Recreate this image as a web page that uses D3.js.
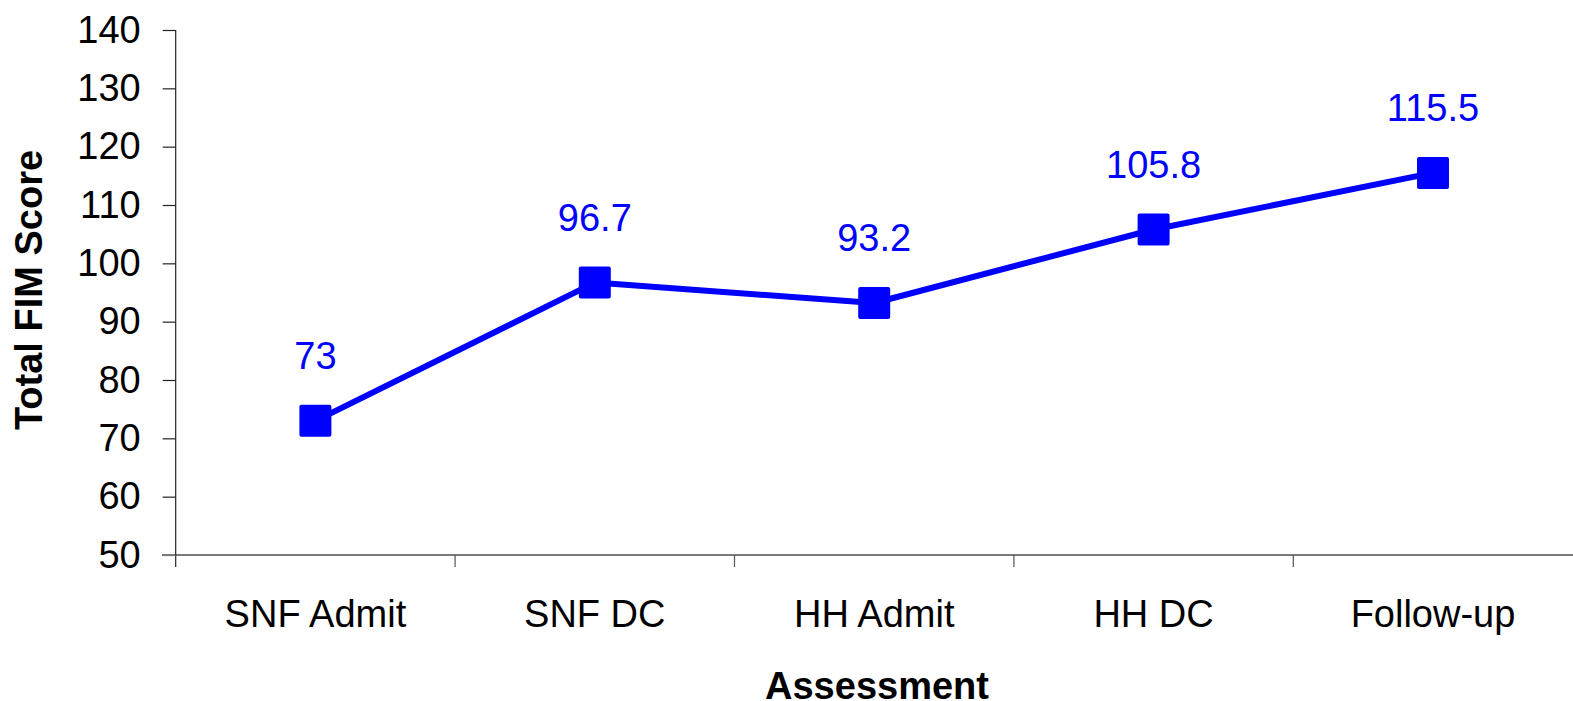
<!DOCTYPE html>
<html>
<head>
<meta charset="utf-8">
<script src="https://cdn.jsdelivr.net/npm/d3@7"></script>
<style>
  html, body { margin: 0; padding: 0; background: #fff; }
  svg { display: block; }
  text { font-family: "Liberation Sans", Arial, sans-serif; }
</style>
</head>
<body>
<svg id="chart" width="1573" height="701"></svg>
<script>
// Mean total FIM score at each assessment point
const categories = ["SNF Admit", "SNF DC", "HH Admit", "HH DC", "Follow-up"];
const fimScores = [73, 96.7, 93.2, 105.8, 115.5];
const scoreLabels = ["73", "96.7", "93.2", "105.8", "115.5"];
const yTicks = [50, 60, 70, 80, 90, 100, 110, 120, 130, 140];

(function () {
  const svg = d3.select("#chart");
  const plotLeft = 175.7, plotRight = 1572.7, plotTop = 30, plotBottom = 555;

  const x = d3.scaleBand().domain(categories).range([plotLeft, plotRight]).padding(0);
  const y = d3.scaleLinear().domain([50, 140]).range([plotBottom, plotTop]);

  // X axis: gray baseline with tick marks on category boundaries
  const xAxisG = svg.append("g");
  xAxisG.append("line")
    .attr("x1", 162).attr("x2", 1573)
    .attr("y1", plotBottom).attr("y2", plotBottom)
    .attr("stroke", "#7a7a7a").attr("stroke-width", 2);
  const boundaries = categories.slice(1).map(c => x(c));
  xAxisG.selectAll("line.tick").data(boundaries).join("line")
    .attr("class", "tick")
    .attr("x1", d => d).attr("x2", d => d)
    .attr("y1", plotBottom).attr("y2", plotBottom + 12)
    .attr("stroke", "#555").attr("stroke-width", 1.2);
  xAxisG.selectAll("text").data(categories).join("text")
    .attr("x", d => x(d) + x.bandwidth() / 2)
    .attr("y", 626.5)
    .attr("text-anchor", "middle")
    .attr("font-size", 38)
    .attr("fill", "#000")
    .text(d => d);

  // Y axis
  const yAxis = d3.axisLeft(y).tickValues(yTicks).tickSize(13).tickPadding(22).tickSizeOuter(0);
  const yAxisG = svg.append("g").attr("transform", `translate(${plotLeft},0)`).call(yAxis);
  yAxisG.select(".domain").attr("stroke", "#222").attr("stroke-width", 1.2)
    .attr("d", `M0,${plotTop}V${plotBottom + 12}`);
  yAxisG.selectAll(".tick line").attr("stroke", "#222").attr("stroke-width", 1.2);
  yAxisG.selectAll(".tick text")
    .attr("font-size", 38)
    .attr("font-family", "'Liberation Sans', Arial, sans-serif")
    .attr("fill", "#000");
  yAxisG.selectAll(".tick").filter(d => d === 50).select("line").attr("stroke", "#7a7a7a");

  // Axis titles
  svg.append("text")
    .attr("transform", "translate(42,290) rotate(-90)")
    .attr("text-anchor", "middle")
    .attr("font-size", 38).attr("font-weight", "bold")
    .text("Total FIM Score");
  svg.append("text")
    .attr("x", 877).attr("y", 699)
    .attr("text-anchor", "middle")
    .attr("font-size", 38).attr("font-weight", "bold")
    .text("Assessment");

  // Series line and markers
  const pts = categories.map((c, i) => ({ c, v: fimScores[i], label: scoreLabels[i] }));
  const cx = d => x(d.c) + x.bandwidth() / 2;

  svg.append("path")
    .datum(pts)
    .attr("fill", "none")
    .attr("stroke", "#0000ff")
    .attr("stroke-width", 6)
    .attr("stroke-linejoin", "round")
    .attr("d", d3.line().x(cx).y(d => y(d.v)));

  const size = 32;
  svg.selectAll("rect.marker").data(pts).join("rect")
    .attr("class", "marker")
    .attr("x", d => cx(d) - size / 2)
    .attr("y", d => y(d.v) - size / 2)
    .attr("width", size).attr("height", size)
    .attr("rx", 2)
    .attr("fill", "#0000ff");

  svg.selectAll("text.value").data(pts).join("text")
    .attr("class", "value")
    .attr("x", cx)
    .attr("y", d => y(d.v) - 52)
    .attr("text-anchor", "middle")
    .attr("font-size", 38)
    .attr("fill", "#0000ff")
    .text(d => d.label);
})();
</script>
</body>
</html>
